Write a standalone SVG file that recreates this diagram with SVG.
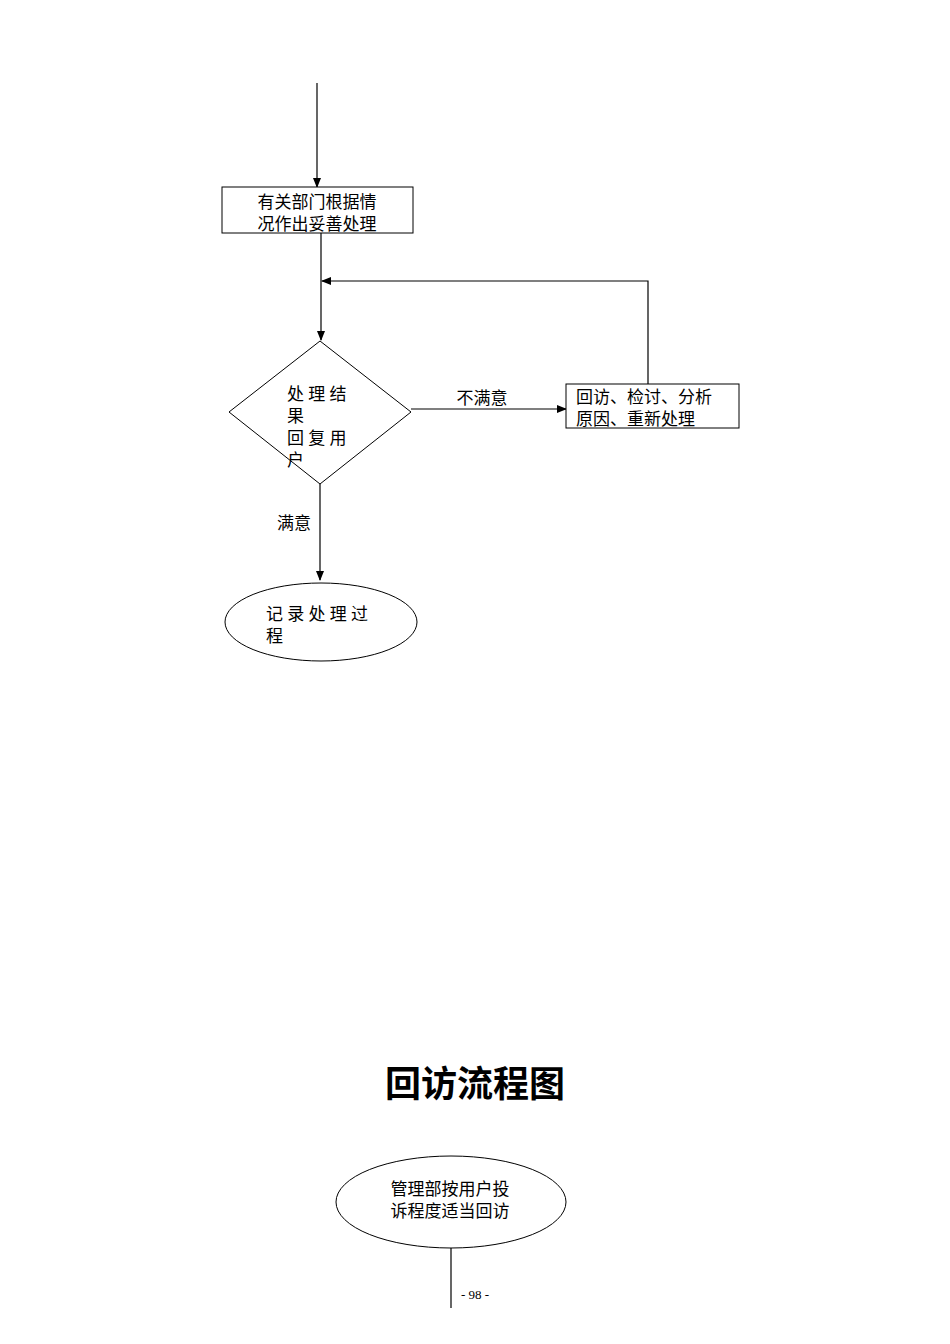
<svg xmlns="http://www.w3.org/2000/svg" width="950" height="1344" viewBox="0 0 950 1344">
<style>
.s{fill:none;stroke:#000;stroke-width:1.2}
.b{fill:#fff;stroke:#000;stroke-width:1}
text{font-family:"Liberation Serif","Noto Sans CJK SC",serif;font-size:17px;fill:#000}
.c{text-anchor:middle}
</style>
<defs><marker id="a" markerWidth="10" markerHeight="8" refX="9" refY="4" orient="auto" markerUnits="userSpaceOnUse"><path d="M0,0L10,4L0,8z" fill="#000"/></marker></defs>
<rect width="950" height="1344" fill="#fff"/>
<g id="connectors">
<line class="s" x1="317" y1="83" x2="317" y2="187" marker-end="url(#a)"/>
<line class="s" x1="321" y1="233" x2="321" y2="340" marker-end="url(#a)"/>
<line class="s" x1="411" y1="409" x2="566" y2="409" marker-end="url(#a)"/>
<polyline class="s" points="648,384 648,281 322,281" marker-end="url(#a)"/>
<line class="s" x1="320" y1="484" x2="320" y2="580" marker-end="url(#a)"/>
<line class="s" x1="451" y1="1248" x2="451" y2="1308"/>
<text x="482" y="404" class="c">不满意</text>
<text x="294" y="529" class="c">满意</text>
</g>
<g id="n1"><rect class="b" x="222" y="187" width="191" height="46"/>
<text x="317" y="208" class="c">有关部门根据情</text><text x="317" y="230" class="c">况作出妥善处理</text></g>
<g id="n2"><polygon class="b" points="320,341 411,412 320,484 229,412"/>
<text x="287" y="400">处 理 结</text><text x="287" y="422">果</text><text x="287" y="444">回 复 用</text><text x="287" y="466">户</text></g>
<g id="n3"><rect class="b" x="566" y="384" width="173" height="44"/>
<text x="576" y="403">回访、检讨、分析</text><text x="576" y="425">原因、重新处理</text></g>
<g id="n4"><ellipse class="b" cx="321" cy="622" rx="96" ry="39"/>
<text x="266" y="620">记 录 处 理 过</text><text x="266" y="642">程</text></g>
<text x="475" y="1097" class="c" style="font-family:'Liberation Sans','Noto Sans CJK SC',sans-serif;font-size:36px;font-weight:bold">回访流程图</text>
<g id="n5"><ellipse class="b" cx="451" cy="1202" rx="115" ry="46"/>
<text x="450" y="1195" class="c">管理部按用户投</text><text x="450" y="1217" class="c">诉程度适当回访</text></g>
<text x="475" y="1299" class="c" style="font-size:13px">- 98 -</text>
</svg>
